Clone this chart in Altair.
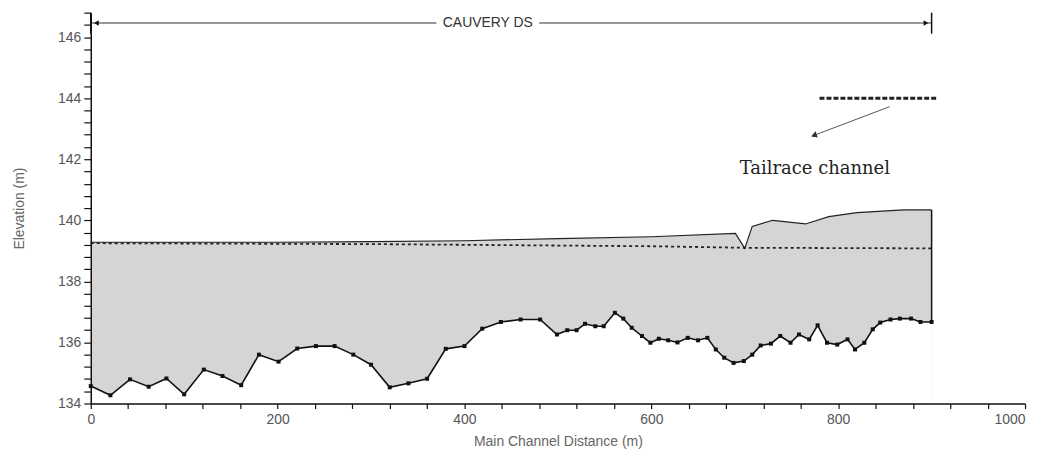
import altair as alt
import pandas as pd

# ---- data ----
bed_station = [0, 21, 42, 62, 81, 100, 121, 141, 161, 180, 201, 221, 241, 261, 281, 300,
               320, 340, 360, 380, 400, 419, 439, 460, 481, 499, 510, 520, 529, 540, 549,
               561, 570, 579, 590, 599, 608, 618, 628, 639, 650, 660, 669, 678, 688, 699,
               708, 717, 728, 738, 749, 758, 769, 778, 788, 799, 810, 818, 828, 837, 845,
               856, 866, 878, 888, 900]
bed_elev = [134.57, 134.27, 134.79, 134.55, 134.82, 134.30, 135.11, 134.90, 134.60, 135.60,
            135.37, 135.80, 135.88, 135.88, 135.60, 135.27, 134.53, 134.66, 134.81, 135.79,
            135.88, 136.45, 136.67, 136.75, 136.75, 136.26, 136.40, 136.40, 136.61, 136.53,
            136.53, 136.97, 136.78, 136.48, 136.21, 135.99, 136.12, 136.07, 136.00, 136.15,
            136.07, 136.15, 135.77, 135.50, 135.33, 135.39, 135.60, 135.90, 135.96, 136.21,
            135.99, 136.26, 136.10, 136.56, 135.99, 135.93, 136.10, 135.77, 135.99, 136.43,
            136.65, 136.75, 136.78, 136.78, 136.67, 136.67]

ws_station = [0, 200, 300, 400, 500, 600, 690, 700, 708, 730, 765, 790, 820, 870, 900]
ws_elev = [139.28, 139.28, 139.30, 139.33, 139.40, 139.46, 139.57, 139.08, 139.80, 140.00,
           139.88, 140.12, 140.25, 140.34, 140.34]

crit_station = [0, 300, 600, 700, 900]
crit_elev = [139.25, 139.22, 139.15, 139.10, 139.08]

tail_station = [780, 905]
tail_elev = [144.0, 144.0]

arrow_station = [855, 774]
arrow_elev = [143.72, 142.78]
tail_label = "Tailrace channel"
tail_label_pos = (775, 141.67)

reach_name = "CAUVERY DS"
reach_start, reach_end = 0, 900
reach_elev = 146.46
reach_label_x = 425
reach_gap = [370, 480]

x_ticks = list(range(0, 1001, 40))
y_ticks = [round(134 + 0.4 * k, 1) for k in range(0, 33)]

# ---- tables ----
bed = pd.DataFrame({"x": bed_station, "y": bed_elev})
ws = pd.DataFrame({"x": ws_station, "y": ws_elev})
crit = pd.DataFrame({"x": crit_station, "y": crit_elev})
tail = pd.DataFrame({"x": tail_station, "y": tail_elev})
arrow = pd.DataFrame({"x": arrow_station, "y": arrow_elev, "o": [0, 1]})

xs = alt.Scale(domain=[0, 1000], nice=False)
ys = alt.Scale(domain=[134, 146.8], nice=False, zero=False)

x_axis = alt.Axis(values=x_ticks, tickCount=200, title="Main Channel Distance (m)",
                  labelExpr="datum.value % 200 == 0 ? datum.label : ''",
                  labelAlign={"condition": {"test": "datum.value >= 1000", "value": "right"},
                              "value": "center"},
                  format="d", grid=False, tickSize=5, labelPadding=4,
                  labelOverlap=False, labelFlush=False,
                  titlePadding=8, zindex=1)
y_axis = alt.Axis(values=y_ticks, tickCount=200, title="Elevation (m)",
                  labelExpr="abs(datum.value - round(datum.value/2)*2) < 0.01 ? format(datum.value, 'd') : ''",
                  grid=False, tickSize=7, labelPadding=3, titlePadding=31,
                  labelOverlap=False, labelFlush=False, zindex=1)

X = alt.X("x:Q", scale=xs, axis=x_axis)
Y = alt.Y("y:Q", scale=ys, axis=y_axis)

ws_area = alt.Chart(ws).mark_area(color="#d7d4d4", opacity=1, clip=True).encode(
    x=X, y=Y, y2=alt.datum(134))
bed_area = alt.Chart(bed).mark_area(color="white", opacity=1, clip=True).encode(
    x="x:Q", y="y:Q", y2=alt.datum(134))
ws_line = alt.Chart(ws).mark_line(color="#222", strokeWidth=1.2).encode(x="x:Q", y="y:Q")
crit_line = alt.Chart(crit).mark_line(color="#222", strokeWidth=1.8, strokeDash=[3, 3]).encode(
    x="x:Q", y="y:Q")
bed_line = alt.Chart(bed).mark_line(color="#111", strokeWidth=1.6).encode(x="x:Q", y="y:Q")
bed_pts = alt.Chart(bed).mark_point(shape="square", filled=True, color="#111", size=16,
                                    opacity=1).encode(x="x:Q", y="y:Q")
end_wall = alt.Chart(pd.DataFrame({"x": [bed_station[-1]], "y": [bed_elev[-1]],
                                   "y2": [ws_elev[-1]]})).mark_rule(
    color="#111", strokeWidth=1.5).encode(x="x:Q", y="y:Q", y2="y2:Q")

tail_line = alt.Chart(tail).mark_line(color="#222", strokeWidth=3, strokeDash=[5, 2]).encode(
    x="x:Q", y="y:Q")
arrow_line = alt.Chart(arrow).mark_line(color="#555", strokeWidth=1).encode(
    x="x:Q", y="y:Q", order="o:Q")
arrow_head = alt.Chart(arrow.iloc[[1]]).mark_point(shape="triangle-up", filled=True,
                                                   color="#333", size=45, angle=250,
                                                   opacity=1).encode(x="x:Q", y="y:Q")
tail_text = alt.Chart(pd.DataFrame({"x": [tail_label_pos[0]], "y": [tail_label_pos[1]],
                                    "t": [tail_label]})).mark_text(
    font="DejaVu Serif", fontSize=18, color="#222").encode(x="x:Q", y="y:Q", text="t:N")

reach_seg = pd.DataFrame({"x": [reach_start, reach_gap[1]], "x2": [reach_gap[0], reach_end],
                          "y": [reach_elev, reach_elev]})
reach_rule = alt.Chart(reach_seg).mark_rule(color="#333", strokeWidth=1.2).encode(
    x="x:Q", x2="x2:Q", y="y:Q")
reach_bars = alt.Chart(pd.DataFrame({"x": [reach_start, reach_end],
                                     "y": [reach_elev - 0.35, reach_elev - 0.35],
                                     "y2": [146.8, 146.8]})).mark_rule(
    color="#111", strokeWidth=1.5).encode(x="x:Q", y="y:Q", y2="y2:Q")
reach_heads = alt.Chart(pd.DataFrame({"x": [reach_start + 6, reach_end - 6],
                                      "y": [reach_elev, reach_elev],
                                      "a": [270, 90]})).mark_point(
    shape="triangle-up", filled=True, color="#111", size=30, opacity=1).encode(
    x="x:Q", y="y:Q", angle=alt.Angle("a:Q", scale=None))
reach_text = alt.Chart(pd.DataFrame({"x": [reach_label_x], "y": [reach_elev],
                                     "t": [reach_name]})).mark_text(
    font="Liberation Sans", fontSize=14, color="#333").encode(x="x:Q", y="y:Q", text="t:N")

chart = alt.layer(
    ws_area, bed_area, ws_line, crit_line, bed_line, bed_pts, end_wall,
    tail_line, arrow_line, arrow_head, tail_text,
    reach_rule, reach_bars, reach_heads, reach_text,
).properties(
    width=937, height=392,
    autosize=alt.AutoSizeParams(type="none"),
    padding={"left": 83, "top": 4, "right": 12, "bottom": 52},
).configure_view(stroke=None).configure_axis(
    domainColor="#111", tickColor="#111", domainWidth=1.5, tickWidth=1.2,
    labelFont="Liberation Sans", labelFontSize=14, labelColor="#555",
    titleFont="Liberation Sans", titleFontSize=14, titleColor="#666", titleFontWeight="normal",
)

chart.save("out.html", embed_options={"renderer": "svg", "actions": False})
